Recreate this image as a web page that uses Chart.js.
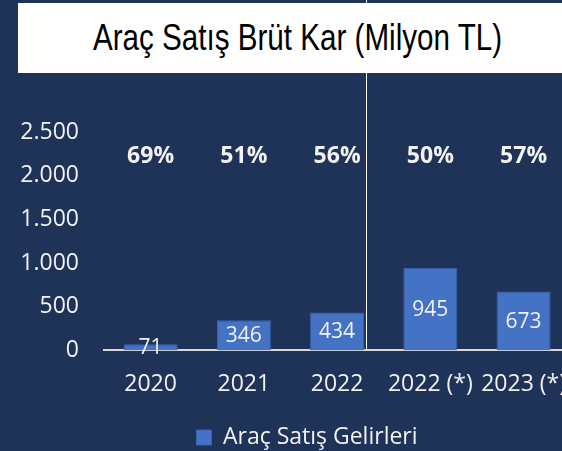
<!DOCTYPE html>
<html>
<head>
<meta charset="utf-8">
<script src="https://cdn.jsdelivr.net/npm/chart.js@4.4.0/dist/chart.umd.min.js"></script>
<style>
  html, body { margin: 0; padding: 0; background: #1f3257; overflow: hidden; width: 562px; height: 451px; }
  #title {
    position: absolute; left: 18px; top: 3px; width: 560px; height: 70px;
    background: #ffffff; z-index: 2;
    display: flex; align-items: center; justify-content: flex-start;
    color: #000;
  }
  #title span {
    display: inline-block; margin-left: 75px;
    font-family: "Liberation Sans", Arial, sans-serif; font-size: 37px;
    transform: scaleX(0.8); transform-origin: left center; white-space: nowrap;
  }
  #wrap { position: absolute; left: 0; top: 0; width: 586px; height: 451px; }
</style>
</head>
<body>
<div id="title"><span>Araç Satış Brüt Kar (Milyon TL)</span></div>
<div id="wrap"><canvas id="chart"></canvas></div>
<script>
const categories = ['2020', '2021', '2022', '2022 (*)', '2023 (*)'];
const salesProfit = [71, 346, 434, 945, 673];
const marginLabels = ['69%', '51%', '56%', '50%', '57%'];
const yTicks = [0, 500, 1000, 1500, 2000, 2500];

const marginLevel = 2215;   // height where the margin labels sit
const textColor = '#f2f2f2';
const fontFamily = '"Open Sans", "Noto Sans", sans-serif';

const barLabels = {
  id: 'barLabels',
  afterDatasetsDraw(chart) {
    const { ctx } = chart;
    const meta = chart.getDatasetMeta(0);
    ctx.save();
    ctx.fillStyle = textColor;
    ctx.font = '21px ' + fontFamily;
    ctx.textAlign = 'center';
    ctx.textBaseline = 'middle';
    meta.data.forEach((bar, i) => {
      ctx.fillText(String(salesProfit[i]), bar.x, (bar.y + bar.base) / 2 + 1);
    });
    ctx.font = 'bold 23px ' + fontFamily;
    const y = chart.scales.y.getPixelForValue(marginLevel);
    meta.data.forEach((bar, i) => {
      ctx.fillText(marginLabels[i], bar.x, y);
    });
    ctx.restore();
  },
};

const divider = {
  id: 'divider',
  afterDraw(chart) {
    const { ctx, chartArea } = chart;
    const xs = chart.scales.x;
    const p2 = xs.getPixelForTick(2);
    const p3 = xs.getPixelForTick(3);
    const x = Math.round(p2 + 0.31 * (p3 - p2)) + 0.5;
    ctx.save();
    ctx.strokeStyle = '#ffffff';
    ctx.lineWidth = 1;
    ctx.beginPath();
    ctx.moveTo(x, 0);
    ctx.lineTo(x, chartArea.bottom);
    ctx.stroke();
    ctx.restore();
  },
};

// legend sits a bit right of the canvas centre in the original
const legendShift = {
  id: 'legendShift',
  afterLayout(chart) {
    if (chart.legend) chart.legend.left += 28;
  },
};

new Chart(document.getElementById('chart'), {
  type: 'bar',
  data: {
    labels: categories,
    datasets: [
      {
        label: 'Araç Satış Gelirleri',
        data: salesProfit,
        backgroundColor: '#4472c4',
        borderColor: '#3c65b0',
        borderWidth: 1,
        barPercentage: 0.58,
        categoryPercentage: 1,
      },
    ],
  },
  options: {
    responsive: true,
    maintainAspectRatio: false,
    animation: false,
    layout: { padding: { top: 132, left: 0, right: 0, bottom: -8 } },
    plugins: {
      legend: {
        position: 'bottom',
        labels: {
          color: textColor,
          font: { family: fontFamily, size: 23 },
          boxWidth: 15,
          boxHeight: 15,
          padding: 6,
        },
      },
      tooltip: { enabled: false },
    },
    scales: {
      x: {
        afterFit(scale) { scale.height += 2; },
        grid: { display: false, drawTicks: false },
        border: { display: true, color: '#d9d9d9', width: 2 },
        ticks: {
          color: textColor,
          font: { family: fontFamily, size: 23 },
          padding: 20,
          maxRotation: 0,
          autoSkip: false,
        },
      },
      y: {
        min: 0,
        max: 2500,
        afterFit(scale) { scale.width = 104; },
        afterBuildTicks(scale) { scale.ticks = yTicks.map((v) => ({ value: v })); },
        grid: { display: false, drawTicks: false },
        border: { display: false },
        ticks: {
          color: textColor,
          font: { family: fontFamily, size: 23 },
          padding: 25,
          callback: (v) => String(v).replace(/\B(?=(\d{3})+(?!\d))/g, '.'),
        },
      },
    },
  },
  plugins: [barLabels, divider, legendShift],
});
</script>
</body>
</html>
